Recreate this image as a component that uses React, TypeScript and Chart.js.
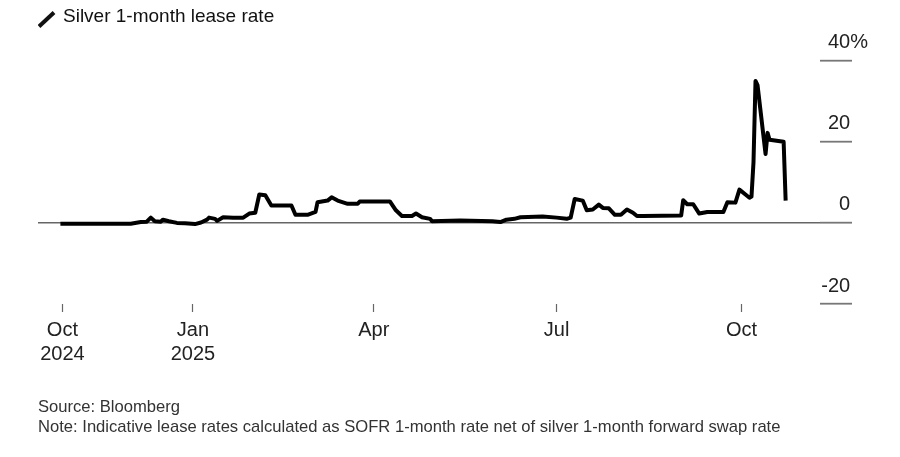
import React, { useEffect, useRef } from 'react';
import { Chart, registerables } from 'chart.js';

Chart.register(...registerables);

// ---- data ----
const dates: string[] = [
  '2024-10-27', '2024-12-01', '2024-12-06', '2024-12-09', '2024-12-11', '2024-12-13',
  '2024-12-16', '2024-12-17', '2024-12-20', '2024-12-24', '2024-12-28', '2025-01-02',
  '2025-01-05', '2025-01-08', '2025-01-09', '2025-01-12', '2025-01-13', '2025-01-16',
  '2025-01-21', '2025-01-26', '2025-01-29', '2025-02-01', '2025-02-03', '2025-02-06',
  '2025-02-09', '2025-02-19', '2025-02-21', '2025-02-27', '2025-03-03', '2025-03-04',
  '2025-03-09', '2025-03-11', '2025-03-14', '2025-03-19', '2025-03-24', '2025-03-25',
  '2025-04-09', '2025-04-12', '2025-04-15', '2025-04-20', '2025-04-22', '2025-04-25',
  '2025-04-29', '2025-04-30', '2025-05-14', '2025-05-30', '2025-06-03', '2025-06-06',
  '2025-06-10', '2025-06-13', '2025-06-24', '2025-07-01', '2025-07-06', '2025-07-08',
  '2025-07-10', '2025-07-14', '2025-07-16', '2025-07-19', '2025-07-22', '2025-07-24',
  '2025-07-27', '2025-07-30', '2025-08-02', '2025-08-05', '2025-08-08', '2025-08-10',
  '2025-08-13', '2025-09-01', '2025-09-02', '2025-09-04', '2025-09-07', '2025-09-10',
  '2025-09-14', '2025-09-22', '2025-09-24', '2025-09-28', '2025-09-30', '2025-10-03',
  '2025-10-05', '2025-10-06', '2025-10-07', '2025-10-08', '2025-10-09', '2025-10-13',
  '2025-10-14', '2025-10-15', '2025-10-22', '2025-10-23',
];

const leaseRate: number[] = [
  -0.2, -0.2, 0.2, 0.3, 1.3, 0.4,
  0.3, 0.8, 0.4, 0.0, -0.1, -0.3,
  0.1, 0.8, 1.3, 1.0, 0.5, 1.4,
  1.3, 1.3, 2.3, 2.5, 7.0, 6.8,
  4.3, 4.3, 2.0, 2.0, 2.7, 5.1,
  5.5, 6.3, 5.5, 4.7, 4.7, 5.3,
  5.3, 3.1, 1.7, 1.7, 2.3, 1.4,
  1.0, 0.4, 0.6, 0.4, 0.2, 0.8,
  1.0, 1.4, 1.6, 1.3, 1.0, 1.3,
  5.9, 5.5, 3.1, 3.3, 4.5, 3.7,
  3.6, 2.0, 2.0, 3.3, 2.5, 1.7,
  1.7, 1.8, 5.6, 4.6, 4.6, 2.3,
  2.7, 2.7, 5.1, 5.0, 8.2, 7.0,
  6.2, 6.5, 15.0, 35.0, 34.0, 17.0,
  22.2, 20.5, 20.0, 5.5,
];

const tickDates: string[] = ['2024-10-28', '2025-01-01', '2025-04-01', '2025-07-01', '2025-10-01'];
const tickLabels: (string | string[])[] = [['Oct', '2024'], ['Jan', '2025'], 'Apr', 'Jul', 'Oct'];
const yTickValues: number[] = [-20, 0, 20, 40];

const titleText = 'Silver 1-month lease rate';
const sourceText = 'Source: Bloomberg';
const noteText = 'Note: Indicative lease rates calculated as SOFR 1-month rate net of silver 1-month forward swap rate';

const BASE = Date.UTC(2025, 0, 1);
const dayOf = (s: string): number => {
  const [y, m, d] = s.split('-').map(Number);
  return (Date.UTC(y, m - 1, d) - BASE) / 86400000;
};

const FONT = "'Liberation Sans', Arial, Helvetica, sans-serif";

function makeIcon(): HTMLCanvasElement {
  const c = document.createElement('canvas');
  c.width = 20;
  c.height = 22;
  const g = c.getContext('2d')!;
  g.strokeStyle = '#111';
  g.lineWidth = 4;
  g.lineCap = 'butt';
  g.beginPath();
  g.moveTo(2, 20.5);
  g.lineTo(17, 6.5);
  g.stroke();
  return c;
}

export default function App() {
  const ref = useRef<HTMLCanvasElement | null>(null);

  useEffect(() => {
    if (!ref.current) return;
    const icon = makeIcon();
    const points = dates.map((d, i) => ({ x: dayOf(d), y: leaseRate[i] }));
    const tickDays = tickDates.map(dayOf);

    const chart = new Chart(ref.current, {
      type: 'line',
      data: {
        datasets: [
          {
            label: titleText,
            data: points,
            borderColor: '#000',
            backgroundColor: '#000',
            borderWidth: 4,
            pointRadius: 0,
            tension: 0,
            borderJoinStyle: 'round',
          },
        ],
      },
      options: {
        animation: false,
        responsive: false,
        maintainAspectRatio: false,
        events: [],
        layout: { padding: { left: 38, right: 32, top: 5, bottom: 85 } },
        plugins: {
          tooltip: { enabled: false },
          legend: {
            display: true,
            position: 'top',
            align: 'start',
            labels: {
              usePointStyle: true,
              pointStyle: icon as any,
              pointStyleWidth: 13,
              padding: 2.5,
              color: '#111',
              font: { family: FONT, size: 19 },
            },
          },
          subtitle: {
            display: true,
            text: ' ',
            position: 'top',
            weight: 500,
            font: { family: FONT, size: 10, lineHeight: 1 },
            padding: { top: 0, bottom: 14.2 },
          } as any,
        },
        scales: {
          x: {
            type: 'linear',
            min: -77.15,
            max: 312.1,
            border: { display: false },
            grid: {
              drawOnChartArea: false,
              drawTicks: true,
              tickLength: 8,
              tickColor: '#666',
              tickWidth: 1.2,
            },
            afterBuildTicks: (scale: any) => {
              scale.ticks = tickDays.map((v) => ({ value: v }));
            },
            afterFit: (scale: any) => {
              scale.height = 68;
            },
            ticks: {
              autoSkip: false,
              maxRotation: 0,
              minRotation: 0,
              padding: 6,
              color: '#222',
              font: { family: FONT, size: 20, lineHeight: 1.2 },
              callback: (_v: any, i: number) => tickLabels[i] as any,
            },
          },
          y: {
            type: 'linear',
            position: 'right',
            min: -20,
            max: 40,
            border: { display: false },
            afterBuildTicks: (scale: any) => {
              scale.ticks = yTickValues.map((v) => ({ value: v }));
            },
            afterFit: (scale: any) => {
              scale.width = 48;
              scale.paddingTop = 0;
              scale.paddingBottom = 0;
            },
            grid: {
              drawOnChartArea: true,
              drawTicks: true,
              tickLength: 32,
              color: (ctx: any) => (ctx.tick && ctx.tick.value === 0 ? '#666' : 'rgba(0,0,0,0)'),
              lineWidth: 1.4,
              tickColor: '#777',
              tickWidth: 1.8,
            },
            ticks: {
              crossAlign: 'far',
              labelOffset: -18,
              padding: 0,
              color: '#222',
              font: { family: FONT, size: 20 },
              callback: (v: any) => (Number(v) === 40 ? '40%' : String(v) + '\u2007\u2004'),
            },
          },
        },
      },
    });
    return () => chart.destroy();
  }, []);

  return (
    <div style={{ position: 'fixed', left: 0, top: 0, width: 900, height: 457, background: '#fff' }}>
      <canvas ref={ref} width={900} height={457} style={{ display: 'block', width: 900, height: 457 }} />
      <div
        style={{
          position: 'absolute',
          left: 38,
          top: 397,
          fontFamily: FONT,
          fontSize: 16.6,
          lineHeight: '20px',
          color: '#333',
          whiteSpace: 'nowrap',
        }}
      >
        <div>{sourceText}</div>
        <div>{noteText}</div>
      </div>
    </div>
  );
}
